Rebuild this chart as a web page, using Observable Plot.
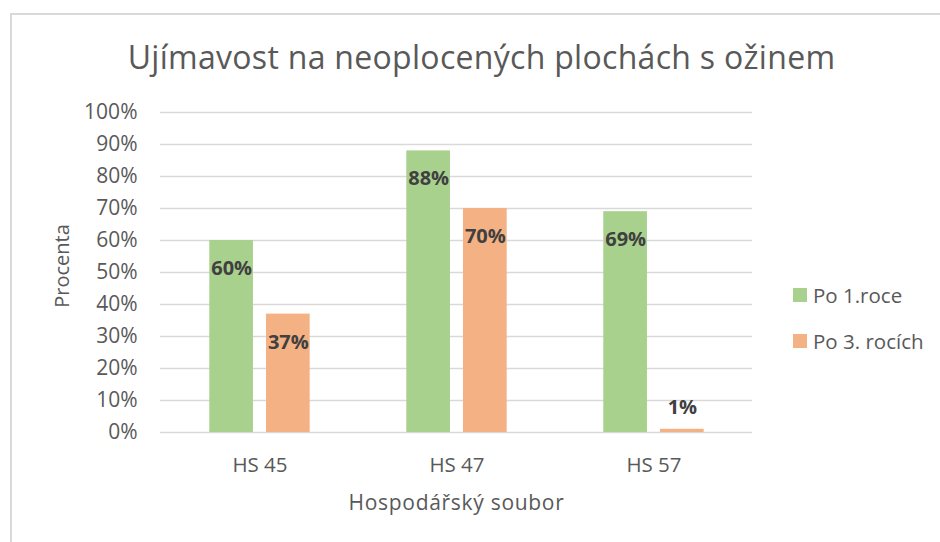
<!DOCTYPE html>
<html>
<head>
<meta charset="utf-8">
<script src="https://cdn.jsdelivr.net/npm/d3@7"></script>
<script src="https://cdn.jsdelivr.net/npm/@observablehq/plot@0.6"></script>
<style>
  html, body { margin: 0; padding: 0; background: #fff; overflow: hidden; }
  #wrap { position: relative; width: 940px; height: 542px; overflow: hidden; font-family: "Open Sans", sans-serif; color: #595959; }
  #frame { position: absolute; left: 10px; top: 13px; width: 1000px; height: 600px; border: 2px solid #d9d9d9; box-sizing: border-box; }
  #chart { position: absolute; left: 0; top: 0; }
  .t { position: absolute; line-height: 1; white-space: nowrap; }
  #title { font-size: 32px; letter-spacing: 0.3px; left: 0; width: 963px; text-align: center; top: 41px; }
  #xtitle { font-size: 21px; letter-spacing: 0.7px; left: 0; width: 913px; text-align: center; top: 492px; }
  #ytitle { font-size: 20px; left: 62px; top: 266px; transform: translate(-50%, -50%) rotate(-90deg); }
  .leg { position: absolute; left: 793px; font-size: 20.5px; line-height: 1; white-space: nowrap; }
  .sw { display: inline-block; width: 14px; height: 14px; position: absolute; left: 0; }
  .lt { position: absolute; left: 20px; top: 0; }
</style>
</head>
<body>
<div id="wrap">
  <div id="frame"></div>
  <div id="chart"></div>
  <div id="title" class="t"></div>
  <div id="xtitle" class="t"></div>
  <div id="ytitle" class="t"></div>
  <div id="legend"></div>
</div>
<script>
// ---- data ----
const titleText = "Ujímavost na neoplocených plochách s ožinem";
const xTitle = "Hospodářský soubor";
const yTitle = "Procenta";
const categories = ["HS 45", "HS 47", "HS 57"];
const seriesNames = ["Po 1.roce", "Po 3. rocích"];
const po1roce = [0.60, 0.88, 0.69];
const po3rocich = [0.37, 0.70, 0.01];
const yTicks = [0, 0.1, 0.2, 0.3, 0.4, 0.5, 0.6, 0.7, 0.8, 0.9, 1.0];
const seriesColors = ["#A9D18E", "#F4B183"];

const pct = d3.format(".0%");
const s1 = categories.map((c, i) => ({cat: c, series: seriesNames[0], value: po1roce[i]}));
const s2 = categories.map((c, i) => ({cat: c, series: seriesNames[1], value: po3rocich[i]}));

document.getElementById("title").textContent = titleText;
document.getElementById("xtitle").textContent = xTitle;
document.getElementById("ytitle").textContent = yTitle;

const legendTops = [285, 331];
const legend = document.getElementById("legend");
seriesNames.forEach((s, i) => {
  const row = document.createElement("div");
  row.className = "leg";
  row.style.top = legendTops[i] + "px";
  const sw = document.createElement("span");
  sw.className = "sw";
  sw.style.background = seriesColors[i];
  sw.style.top = "3px";
  const lt = document.createElement("span");
  lt.className = "lt";
  lt.textContent = s;
  row.appendChild(sw);
  row.appendChild(lt);
  legend.appendChild(row);
});

// group layout inside each category band (band width ~197px)
const outerGap = 48.3, barW = 44, innerGap = 12.7;
const bandW = (940 - 160 - 188) / categories.length;
const off1 = outerGap + barW / 2 - bandW / 2;
const off2 = -off1;

function labels(rows, dxv) {
  return [
    Plot.text(rows.filter(d => d.value >= 0.1), {x: "cat", y: "value", text: d => pct(d.value), dx: dxv, dy: 28, fontWeight: "bold", fill: "#404040", fontSize: 20}),
    Plot.text(rows.filter(d => d.value < 0.1), {x: "cat", y: "value", text: d => pct(d.value), dx: dxv, dy: -22, fontWeight: "bold", fill: "#404040", fontSize: 20})
  ];
}

const chart = Plot.plot({
  width: 940,
  height: 542,
  marginLeft: 160,
  marginRight: 188,
  marginTop: 112,
  marginBottom: 110,
  style: {fontFamily: "Open Sans, sans-serif", fontSize: "20px", color: "#595959", background: "transparent", overflow: "visible"},
  x: {domain: categories, padding: 0, label: null},
  y: {domain: [0, 1], label: null},
  color: {domain: seriesNames, range: seriesColors},
  marks: [
    Plot.ruleY(yTicks, {stroke: "#d9d9d9", strokeWidth: 1.5}),
    Plot.axisY(yTicks, {tickSize: 0, tickPadding: 23, tickFormat: pct, label: null, fill: "#595959", fontSize: 21}),
    Plot.axisX({tickSize: 0, tickPadding: 25, label: null, fill: "#595959", fontSize: 20.5}),
    Plot.barY(s1, {x: "cat", y: "value", fill: "series", insetLeft: outerGap, insetRight: bandW - outerGap - barW}),
    Plot.barY(s2, {x: "cat", y: "value", fill: "series", insetLeft: outerGap + barW + innerGap, insetRight: bandW - outerGap - 2 * barW - innerGap}),
    ...labels(s1, off1),
    ...labels(s2, off2)
  ]
});
document.getElementById("chart").appendChild(chart);
</script>
</body>
</html>
